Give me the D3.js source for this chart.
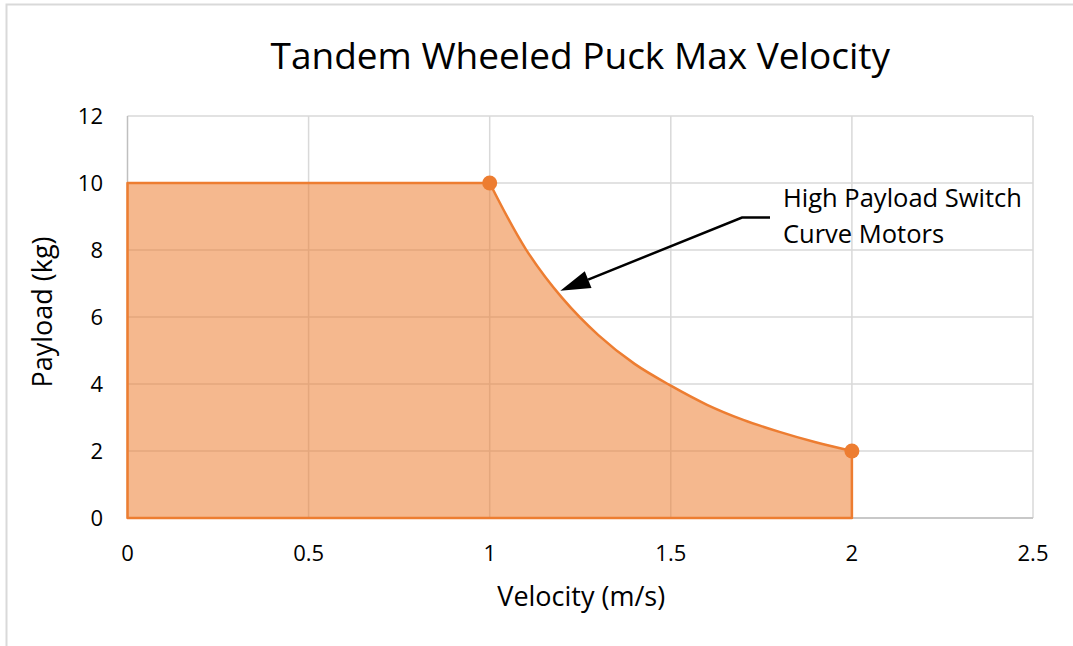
<!DOCTYPE html>
<html>
<head>
<meta charset="utf-8">
<script src="https://cdn.jsdelivr.net/npm/d3@7"></script>
<style>
  html, body { margin: 0; padding: 0; background: #fff; }
  text { font-family: "Open Sans", "Noto Sans", sans-serif; fill: #000; }
</style>
</head>
<body>
<svg id="chart" width="1073" height="646"></svg>
<script>
// ---- data ----
const flatVelocity = [0, 1];
const flatPayload  = [10, 10];
const curveVelocity = [1, 1.1, 1.2, 1.3, 1.4, 1.5, 1.6, 1.7, 1.8, 1.9, 2];
const curvePayload  = [10, 8.02, 6.57, 5.46, 4.6, 3.95, 3.38, 2.93, 2.57, 2.26, 2.0];
const markerVelocity = [1, 2];
const markerPayload  = [10, 2];
const xTicks = [0, 0.5, 1, 1.5, 2, 2.5];
const yTicks = [0, 2, 4, 6, 8, 10, 12];
const titleText = "Tandem Wheeled Puck Max Velocity";
const xTitle = "Velocity (m/s)";
const yTitle = "Payload (kg)";
const annotationLines = ["High Payload Switch", "Curve Motors"];
const annotationTarget = [1.195, 6.78];

(function () {
// ---- layout ----
const W = 1073, H = 646;
const pLeft = 127.5, pRight = 1033, pTop = 116, pBottom = 518;
const svg = d3.select("#chart");

const x = d3.scaleLinear().domain([0, 2.5]).range([pLeft, pRight]);
const y = d3.scaleLinear().domain([0, 12]).range([pBottom, pTop]);

// outer border (top & left visible)
svg.append("rect").attr("x", 6.5).attr("y", 4.5).attr("width", W + 20).attr("height", H + 20)
  .attr("fill", "none").attr("stroke", "#d9d9d9").attr("stroke-width", 2);

// gridlines
svg.append("g").selectAll("line").data(yTicks).join("line")
  .attr("x1", pLeft).attr("x2", pRight)
  .attr("y1", d => y(d)).attr("y2", d => y(d))
  .attr("stroke", "#d9d9d9").attr("stroke-width", 1.5);
svg.append("g").selectAll("line").data(xTicks).join("line")
  .attr("x1", d => x(d)).attr("x2", d => x(d))
  .attr("y1", pTop).attr("y2", pBottom)
  .attr("stroke", d => d === 0 ? "#bfbfbf" : "#d9d9d9").attr("stroke-width", 1.5);

// bottom axis line
svg.append("line").attr("x1", pLeft).attr("x2", pRight).attr("y1", pBottom).attr("y2", pBottom)
  .attr("stroke", "#bfbfbf").attr("stroke-width", 1.5);

// area: flat part + smooth curve
const flatPts = flatVelocity.map((v, i) => [v, flatPayload[i]]);
const curvePts = curveVelocity.map((v, i) => [v, curvePayload[i]]);
const curveLine = d3.line().x(d => x(d[0])).y(d => y(d[1])).curve(d3.curveCatmullRom.alpha(0.5));
const curvePath = curveLine(curvePts); // starts with M at (1,10)
const x0 = x(0), y0 = y(0);
const endX = x(curveVelocity[curveVelocity.length - 1]);
const areaD = `M${x0},${y0} L${x(flatPts[0][0])},${y(flatPts[0][1])} L${x(flatPts[1][0])},${y(flatPts[1][1])} ` +
  curvePath.replace(/^M[^CLQ]*/, "") + ` L${endX},${y0} Z`;
svg.append("path").attr("d", areaD)
  .attr("fill", "#ED7D31").attr("fill-opacity", 0.55);

// outline stroke
svg.append("path").attr("d", areaD)
  .attr("fill", "none").attr("stroke", "#ED7D31").attr("stroke-width", 2.5)
  .attr("stroke-linejoin", "round");

// markers
svg.append("g").selectAll("circle").data(markerVelocity).join("circle")
  .attr("cx", d => x(d)).attr("cy", (d, i) => y(markerPayload[i]))
  .attr("r", 7.5).attr("fill", "#ED7D31");

// tick labels
svg.append("g").selectAll("text").data(yTicks).join("text")
  .attr("x", 103).attr("y", d => y(d)).attr("dy", "0.35em")
  .attr("text-anchor", "end").attr("font-size", 22).text(d => d);
svg.append("g").selectAll("text").data(xTicks).join("text")
  .attr("x", d => x(d)).attr("y", 561)
  .attr("text-anchor", "middle").attr("font-size", 22).text(d => d);

// titles
svg.append("text").attr("x", (pLeft + pRight) / 2).attr("y", 69)
  .attr("text-anchor", "middle").attr("font-size", 37).text(titleText);
svg.append("text").attr("x", (pLeft + pRight) / 2 + 1).attr("y", 606)
  .attr("text-anchor", "middle").attr("font-size", 27).text(xTitle);
svg.append("text").attr("transform", `translate(52, 312) rotate(-90)`)
  .attr("text-anchor", "middle").attr("font-size", 27).text(yTitle);

// annotation
const tipX = x(annotationTarget[0]), tipY = y(annotationTarget[1]);
const elbowX = 742, elbowY = 217.5, lineEndX = 770;
const ang = Math.atan2(elbowY - tipY, elbowX - tipX);
const len = 30, half = 9;
const bx = tipX + len * Math.cos(ang), by = tipY + len * Math.sin(ang);
svg.append("path")
  .attr("d", `M${lineEndX},${elbowY} L${elbowX},${elbowY} L${bx},${by}`)
  .attr("fill", "none").attr("stroke", "#000").attr("stroke-width", 2.5);
const px = -Math.sin(ang) * half, py = Math.cos(ang) * half;
svg.append("path")
  .attr("d", `M${tipX},${tipY} L${bx + px},${by + py} L${bx - px},${by - py} Z`)
  .attr("fill", "#000");
svg.append("g").selectAll("text").data(annotationLines).join("text")
  .attr("x", 783).attr("y", (d, i) => 207 + i * 36)
  .attr("font-size", 25.5).text(d => d);
})();
</script>
</body>
</html>
